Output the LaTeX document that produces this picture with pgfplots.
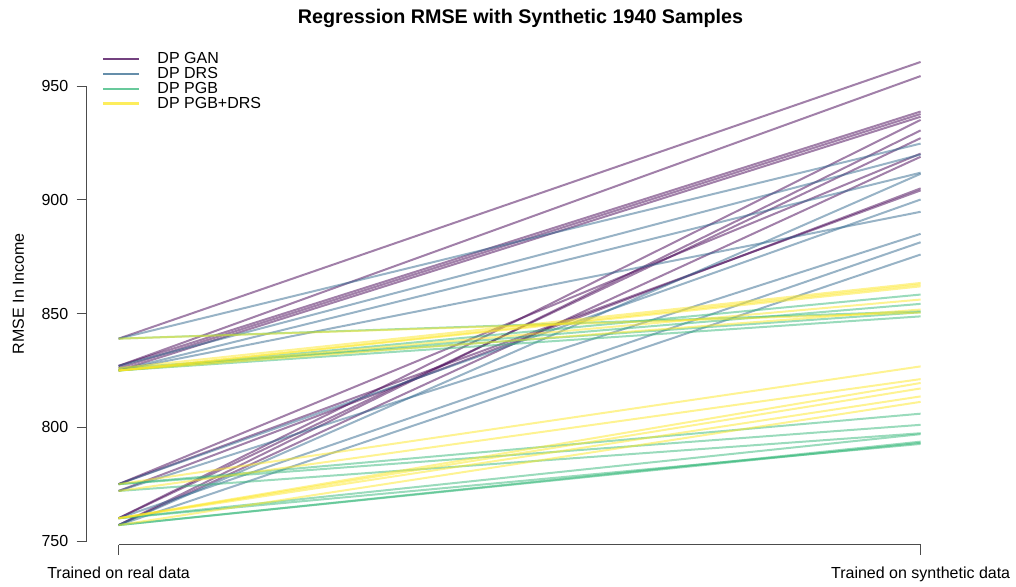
\documentclass[border=0pt]{standalone}
\usepackage{pgfplots}
\pgfplotsset{compat=1.18}
\usepackage{fontspec}
\setmainfont{Liberation Sans}
\definecolor{cgan}{HTML}{440154}
\definecolor{cdrs}{HTML}{31688E}
\definecolor{cpgb}{HTML}{35B779}
\definecolor{cpd}{HTML}{FDE725}
\tikzset{
  gan/.style={draw=cgan, line width=1.5pt, opacity=0.5},
  drs/.style={draw=cdrs, line width=1.5pt, opacity=0.5},
  pgb/.style={draw=cpgb, line width=1.5pt, opacity=0.5},
  pd/.style={draw=cpd, line width=1.5pt, opacity=0.5},
}
\begin{document}
\fontsize{12pt}{14.4pt}\selectfont
\begin{tikzpicture}
\path[use as bounding box] (0,0) rectangle (762pt,439.5pt);
\node[font=\bfseries\fontsize{14.8pt}{17pt}\selectfont, anchor=base] at (390.4pt,421.5pt) {Regression RMSE with Synthetic 1940 Samples};
\begin{axis}[
  at={(64.875pt,31.125pt)}, anchor=south west,
  scale only axis, width=649.65pt, height=376.4pt,
  xmin=0.96, xmax=2.04, ymin=748.46, ymax=969.2,
  axis x line*=bottom, axis y line*=left,
  axis line style={draw=none},
  xtick={1,2}, xticklabels={Trained on real data, Trained on synthetic data},
  ytick={750,800,850,900,950},
  tick align=outside, major tick length=7.5pt,
  tick style={black!70, line width=0.75pt},
  /pgf/number format/assume math mode=true,
  /pgf/number format/1000 sep={},
  ticklabel style={font=\fontsize{12pt}{14.4pt}\selectfont},
  yticklabel style={anchor=east, inner sep=0pt, xshift=-6pt},
  xticklabel style={anchor=base, inner sep=0pt, yshift=-18pt},
  ylabel={RMSE In Income},
  every axis y label/.style={at={(rel axis cs:-0.0722,0.5)}, rotate=90, anchor=base, inner sep=0pt, font=\fontsize{12pt}{14.4pt}\selectfont},
  clip=false,
  legend style={at={(rel axis cs:0.0177,0.9787)}, anchor=north west, draw=none, fill=none,
    inner sep=0pt, outer sep=0pt, row sep=0pt,
    nodes={inner sep=0pt, text height=8pt, text depth=3.2pt, anchor=base west},
    font=\fontsize{12pt}{14pt}\selectfont},
  legend cell align=left,
  legend image code/.code={\draw[#1, line width=2pt, opacity=0.75] (0pt,3.75pt) -- (27pt,3.75pt); \path (40pt,0pt);},
]
\draw[black!70, line width=0.75pt] (axis cs:0.96,750) -- (axis cs:0.96,950);
\draw[black!70, line width=0.75pt] (axis cs:1,748.46) -- (axis cs:2,748.46);
\addlegendimage{gan}\addlegendentry{DP GAN}
\addlegendimage{drs}\addlegendentry{DP DRS}
\addlegendimage{pgb}\addlegendentry{DP PGB}
\addlegendimage{pd}\addlegendentry{DP PGB+DRS}
% DP GAN
\addplot[gan, forget plot] coordinates {(1,839) (2,960.7)};
\addplot[gan, forget plot] coordinates {(1,827) (2,954.5)};
\addplot[gan, forget plot] coordinates {(1,827) (2,938.9)};
\addplot[gan, forget plot] coordinates {(1,826) (2,937.8)};
\addplot[gan, forget plot] coordinates {(1,825) (2,936.6)};
\addplot[gan, forget plot] coordinates {(1,760) (2,935.2)};
\addplot[gan, forget plot] coordinates {(1,757) (2,930.6)};
\addplot[gan, forget plot] coordinates {(1,760) (2,927.2)};
\addplot[gan, forget plot] coordinates {(1,775) (2,920.4)};
\addplot[gan, forget plot] coordinates {(1,757) (2,919.0)};
\addplot[gan, forget plot] coordinates {(1,772) (2,905.1)};
\addplot[gan, forget plot] coordinates {(1,775) (2,904.2)};
% DP DRS
\addplot[drs, forget plot] coordinates {(1,839) (2,924.8)};
\addplot[drs, forget plot] coordinates {(1,827) (2,920.0)};
\addplot[drs, forget plot] coordinates {(1,825) (2,912.0)};
\addplot[drs, forget plot] coordinates {(1,757) (2,911.5)};
\addplot[drs, forget plot] coordinates {(1,775) (2,900.2)};
\addplot[drs, forget plot] coordinates {(1,825) (2,894.8)};
\addplot[drs, forget plot] coordinates {(1,772) (2,885.1)};
\addplot[drs, forget plot] coordinates {(1,760) (2,881.4)};
\addplot[drs, forget plot] coordinates {(1,757) (2,876.0)};
% DP PGB
\addplot[pgb, forget plot] coordinates {(1,839) (2,851.0)};
\addplot[pgb, forget plot] coordinates {(1,825) (2,858.4)};
\addplot[pgb, forget plot] coordinates {(1,825) (2,854.3)};
\addplot[pgb, forget plot] coordinates {(1,826) (2,850.6)};
\addplot[pgb, forget plot] coordinates {(1,825) (2,848.8)};
\addplot[pgb, forget plot] coordinates {(1,775) (2,806.0)};
\addplot[pgb, forget plot] coordinates {(1,775) (2,801.1)};
\addplot[pgb, forget plot] coordinates {(1,772) (2,797.4)};
\addplot[pgb, forget plot] coordinates {(1,760) (2,797.0)};
\addplot[pgb, forget plot] coordinates {(1,757) (2,793.7)};
\addplot[pgb, forget plot] coordinates {(1,757) (2,793.2)};
\addplot[pgb, forget plot] coordinates {(1,760) (2,792.7)};
% DP PGB+DRS
\addplot[pd, forget plot] coordinates {(1,839) (2,850.5)};
\addplot[pd, forget plot] coordinates {(1,826) (2,863.5)};
\addplot[pd, forget plot] coordinates {(1,825) (2,862.8)};
\addplot[pd, forget plot] coordinates {(1,825) (2,862.0)};
\addplot[pd, forget plot] coordinates {(1,825) (2,856.2)};
\addplot[pd, forget plot] coordinates {(1,825) (2,851.8)};
\addplot[pd, forget plot] coordinates {(1,775) (2,826.8)};
\addplot[pd, forget plot] coordinates {(1,772) (2,821.2)};
\addplot[pd, forget plot] coordinates {(1,760) (2,819.5)};
\addplot[pd, forget plot] coordinates {(1,760) (2,817.1)};
\addplot[pd, forget plot] coordinates {(1,760) (2,813.6)};
\addplot[pd, forget plot] coordinates {(1,757) (2,811.2)};
\end{axis}
\end{tikzpicture}
\end{document}
